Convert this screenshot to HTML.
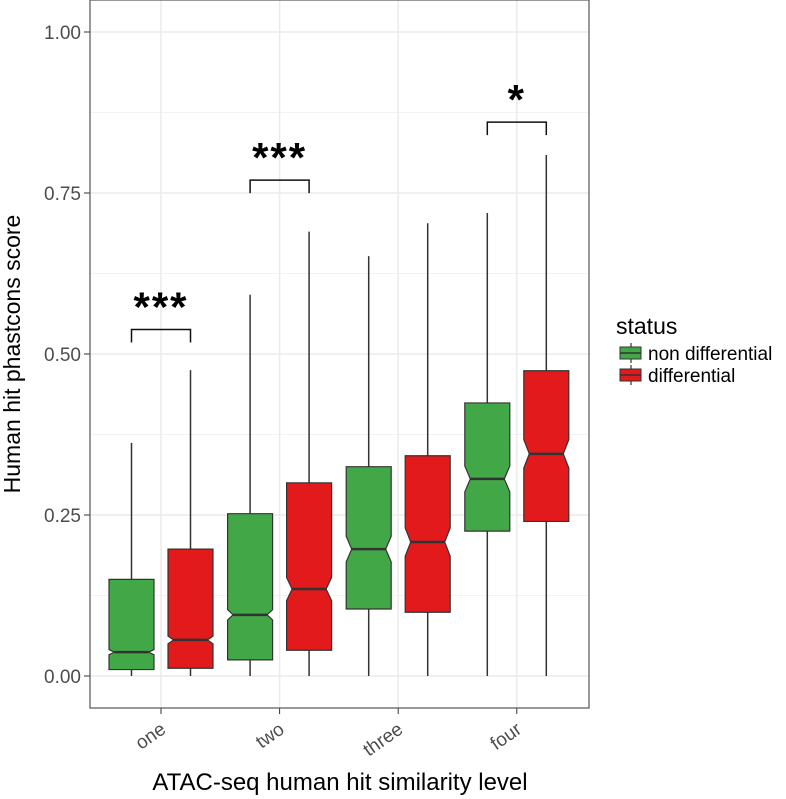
<!DOCTYPE html>
<html><head><meta charset="utf-8"><style>body{margin:0;background:#fff}svg{display:block;font-family:"Liberation Sans",Arial,sans-serif}</style></head>
<body>
<svg id="chart" width="786" height="799" xmlns="http://www.w3.org/2000/svg"></svg>
<script>
const categories=["one","two","three","four"];
const seriesNames=["non differential","differential"];
const seriesColors=["#42a847","#e31a1c"];
const lowG=[0.0,0.0,0.0,0.0];
const q1G=[0.01,0.025,0.104,0.225];
const medG=[0.037,0.095,0.197,0.306];
const q3G=[0.15,0.252,0.325,0.424];
const highG=[0.362,0.592,0.652,0.719];
const notchG=[0.004,0.008,0.02,0.02];
const lowR=[0.0,0.0,0.0,0.0];
const q1R=[0.012,0.04,0.099,0.24];
const medR=[0.056,0.135,0.208,0.345];
const q3R=[0.197,0.30,0.342,0.474];
const highR=[0.475,0.69,0.703,0.809];
const notchR=[0.006,0.018,0.022,0.022];
const yTicks=[0,0.25,0.5,0.75,1];
const yTickLabels=["0.00","0.25","0.50","0.75","1.00"];
const sigCats=[0,1,3];
const sigY=[0.538,0.77,0.86];
const sigLabels=["***","***","*"];

const NS="http://www.w3.org/2000/svg";
const svg=document.getElementById('chart');
const L=90,R=589,T=0,B=708;
const y=v=>676-644*v;
const x=i=>161+i*118.6;
const off=29.5,bw=45;
function mk(tag,attrs,parent){const e=document.createElementNS(NS,tag);for(const k in attrs)e.setAttribute(k,attrs[k]);(parent||svg).appendChild(e);return e;}

const panel=mk('rect',{x:L,y:T,width:R-L,height:B-T,fill:'#fff'});


for(let v=0.125;v<1.1;v+=0.25){const g=mk('line',{x1:L,x2:R,y1:y(v),y2:y(v),stroke:'#f2f2f2','stroke-width':1});

}
yTicks.forEach((v,i)=>{const g=mk('line',{x1:L,x2:R,y1:y(v),y2:y(v),stroke:'#ebebeb','stroke-width':1.5});


const t=mk('line',{x1:84,x2:L,y1:y(v),y2:y(v),stroke:'#333','stroke-width':1});


const lb=mk('text',{x:81,y:y(v)+7,'text-anchor':'end','font-size':19,fill:'#4d4d4d'});lb.textContent=yTickLabels[i];

});
categories.forEach((c,i)=>{const g=mk('line',{x1:x(i),x2:x(i),y1:T,y2:B,stroke:'#ebebeb','stroke-width':1.5});


const t=mk('line',{x1:x(i),x2:x(i),y1:B,y2:B+6,stroke:'#333','stroke-width':1});


const lb=mk('text',{x:x(i)+6,y:B+24,'text-anchor':'end','font-size':19,fill:'#4d4d4d',transform:`rotate(-35 ${x(i)+6} ${B+24})`});lb.textContent=c;

});

function box(cx,lo,a,m,b,hi,n,col,name){
  const hw=bw/2,ind=5.5;
  const w=mk('line',{x1:cx,x2:cx,y1:y(lo),y2:y(hi),stroke:'#333','stroke-width':1.5});
  
  
  const nt=Math.min(m+n,b),nb=Math.max(m-n,a);
  const pts=[[cx-hw,y(b)],[cx+hw,y(b)],[cx+hw,y(nt)],[cx+hw-ind,y(m)],[cx+hw,y(nb)],[cx+hw,y(a)],[cx-hw,y(a)],[cx-hw,y(nb)],[cx-hw+ind,y(m)],[cx-hw,y(nt)]];
  const p=mk('polygon',{points:pts.map(q=>q.join(',')).join(' '),fill:col,stroke:'#333','stroke-width':1.2});
  
  
  const md=mk('line',{x1:cx-hw+ind,x2:cx+hw-ind,y1:y(m),y2:y(m),stroke:'#333','stroke-width':2.5});
  
  
}
categories.forEach((c,i)=>{
  box(x(i)-off,lowG[i],q1G[i],medG[i],q3G[i],highG[i],notchG[i],seriesColors[0],'box-'+c+'-nondiff');
  box(x(i)+off,lowR[i],q1R[i],medR[i],q3R[i],highR[i],notchR[i],seriesColors[1],'box-'+c+'-diff');
});
sigCats.forEach((ci,k)=>{
  const x1=x(ci)-off,x2=x(ci)+off,yy=y(sigY[k]);
  const b=mk('path',{d:`M${x1},${yy+13}V${yy}H${x2}V${yy+13}`,fill:'none',stroke:'#111','stroke-width':1.5});
  
  
  const t=mk('text',{x:x(ci),y:yy-8,'text-anchor':'middle','font-size':42,'font-weight':'bold','letter-spacing':2,fill:'#000'});t.textContent=sigLabels[k];
  
  
});
const border=mk('rect',{x:L,y:T,width:R-L,height:B-T,fill:'none',stroke:'#555','stroke-width':1.2});



const yt=mk('text',{x:0,y:0,'text-anchor':'middle','font-size':23,fill:'#000',transform:'translate(20 354) rotate(-90)'});yt.textContent='Human hit phastcons score';


const xt=mk('text',{x:340,y:790,'text-anchor':'middle','font-size':24,fill:'#000'});xt.textContent='ATAC-seq human hit similarity level';



const lt=mk('text',{x:616,y:334,'font-size':23,fill:'#000'});lt.textContent='status';


seriesNames.forEach((s,i)=>{
  const yy=343+i*22;
  const g=mk('g',{});
  
  
  mk('line',{x1:631,x2:631,y1:yy,y2:yy+20,stroke:'#333','stroke-width':1.2},g);
  mk('rect',{x:620,y:yy+4,width:21,height:12,fill:seriesColors[i],stroke:'#333','stroke-width':1},g);
  mk('line',{x1:620,x2:641,y1:yy+10,y2:yy+10,stroke:'#333','stroke-width':1.5},g);
  const t=mk('text',{x:648,y:yy+17,'font-size':19,fill:'#000'},g);t.textContent=s;
});
</script>
</body></html>
